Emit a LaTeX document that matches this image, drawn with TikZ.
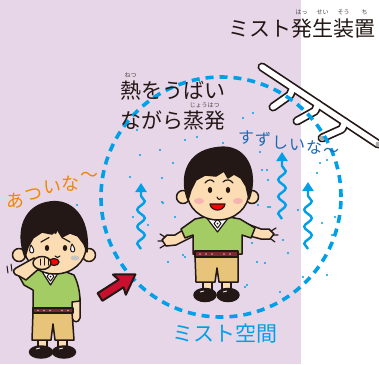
\documentclass[tikz,border=0pt]{standalone}
\usepackage{fontspec}
\setmainfont{Noto Sans CJK JP}
\usetikzlibrary{arrows.meta,decorations.pathmorphing}
\definecolor{bgl}{RGB}{230,214,232}
\definecolor{mist}{RGB}{0,160,233}
\definecolor{coolblue}{RGB}{30,105,180}
\definecolor{hotorange}{RGB}{240,135,0}
\definecolor{ink}{RGB}{35,24,21}
\definecolor{skin}{RGB}{252,220,178}
\definecolor{shirt}{RGB}{164,204,100}
\definecolor{pants}{RGB}{232,196,122}
\definecolor{belt}{RGB}{122,42,52}
\definecolor{arrowred}{RGB}{200,16,46}
\definecolor{cheek}{RGB}{245,180,175}
\definecolor{pipegray}{RGB}{170,170,170}
\begin{document}
\begin{tikzpicture}[x=1pt,y=-1pt,
  outl/.style={draw=ink,line width=1.5pt,line join=round,line cap=round},
  big/.style={font=\fontsize{21}{21}\selectfont,text=ink,inner sep=0pt,anchor=base},
  ruby/.style={font=\fontsize{6}{6}\selectfont,text=ink!80,inner sep=0pt,anchor=base},
  hotchar/.style={font=\fontsize{18}{18}\selectfont,text=hotorange,inner sep=0pt,anchor=base},
  coolchar/.style={font=\fontsize{16}{16}\selectfont,text=coolblue,inner sep=0pt,anchor=base},
  wavy/.style={mist,line width=2.4pt,decorate,
    decoration={snake,amplitude=3.8pt,segment length=17pt,post length=8pt}},
  pipeouter/.style={ink,line width=9pt,line cap=round,line join=round},
  pipeinner/.style={white,line width=5.6pt,line cap=round,line join=round},
  drop/.style={outl,line width=1pt,fill=white}
]
\useasboundingbox (0,0) rectangle (379,364);
% backdrop: room on the left, outside on the right
\fill[white] (0,0) rectangle (379,364);
\fill[bgl] (0,0) rectangle (301,364);

% ---- mist nozzle pipe ----
\coordinate (p0) at (262,67);  \coordinate (p1) at (378,144);
\coordinate (b1j) at (293,88); \coordinate (b1c) at (290,95); \coordinate (b1e) at (273,107);
\coordinate (b2j) at (318,104);\coordinate (b2c) at (315,111);\coordinate (b2e) at (297,121);
\coordinate (b3j) at (345,122);\coordinate (b3c) at (342,129);\coordinate (b3e) at (322,138);
\draw[pipeouter] (p0) -- (p1);
\draw[pipeouter] (b1j) -- (b1c) -- (b1e);
\draw[pipeouter] (b2j) -- (b2c) -- (b2e);
\draw[pipeouter] (b3j) -- (b3c) -- (b3e);
\draw[pipeinner] (p0) -- (p1);
\draw[pipeinner] (b1j) -- (b1c) -- (b1e);
\draw[pipeinner] (b2j) -- (b2c) -- (b2e);
\draw[pipeinner] (b3j) -- (b3c) -- (b3e);
\fill[pipegray] (b3e) circle[radius=2.4pt];
\fill[pipegray] (p1) circle[radius=2.4pt];

% ---- mist zone ----
\draw[mist,line width=3.6pt,dash pattern=on 8pt off 6pt] (221,197) circle[radius=120pt];
\foreach \p in {(243,118),(253,113),(197,137),(223,143),(260,152),(262,170),(317,173),
  (320,163),(327,160),(258,205),(268,207),(298,210),(322,223),(335,217),(332,235),
  (252,243),(283,240),(288,253),(265,263),(247,285),(280,292),(327,275),(303,277),
  (77,205),(163,203),(175,217),(148,225),(133,217),(168,262),(185,257),(137,130),
  (160,150),(173,163),(140,155),(130,177),(185,140),(162,178),(267,170),(268,180),
  (270,207),(183,255),(162,202),(257,262),(245,287)}
  \fill[mist] \p circle[radius=1.2pt];

% rising air
\draw[wavy,-{Triangle[length=9pt,width=11pt]}] (141,249) -- (141,183);
\draw[wavy,-{Triangle[length=9pt,width=11pt]}] (282,219) -- (282,152);
\draw[wavy,-{Triangle[length=9pt,width=11pt]}] (308,249) -- (308,182);

% ---- texts ----
\node[big] (title) at (301.5,36.5) {ミスト発生装置};
\node[ruby] (rhatsu) at (301.5,14) {はっ};
\node[ruby] (rsei) at (322.5,14) {せい};
\node[ruby] (rsou) at (343.5,14) {そう};
\node[ruby] (rchi) at (364.5,14) {ち};
\node[big] (heat1) at (172.5,98.5) {熱をうばい};
\node[big] (heat2) at (172.5,128.5) {ながら蒸発};
\node[ruby] (rnetsu) at (130.5,77.5) {ねつ};
\node[ruby] (rjouhatsu) at (204.5,107.5) {じょうはつ};
\node[big,text=mist] (space) at (225,341.5) {ミスト空間};
% the cool boy's words slide down to the right, one sign at a time
\node[coolchar] (cool1) at (246,143) {す};
\node[coolchar] (cool2) at (263,145.5) {ず};
\node[coolchar] (cool3) at (280,148) {し};
\node[coolchar] (cool4) at (297,150.5) {い};
\node[coolchar] (cool5) at (314,153.5) {な};
\node[coolchar] (cool6) at (331,156.5) {〜};
% the hot boy's words climb along a slope
\node[hotchar] (hot1) at (15,207) {あ};
\node[hotchar] (hot2) at (33.5,200) {つ};
\node[hotchar] (hot3) at (52,193.5) {い};
\node[hotchar] (hot4) at (70.5,190) {な};
\node[hotchar] (hot5) at (89,181) {〜};

% ---- red arrow into the mist ----
\begin{scope}[shift={(100,297)},rotate=32.6]
  \filldraw[fill=arrowred,draw=ink,line width=2pt,line join=round]
    (0,-4.5) -- (25,-4.5) -- (23,-12) -- (42,0) -- (23,12) -- (25,4.5) -- (0,4.5) -- cycle;
\end{scope}

% ---- boy in the mist ----
\filldraw[outl,fill=skin] (194,223) -- (175,235) -- (167,235) -- (162,240) -- (166,246) -- (176,245) -- (194,236) -- cycle;
\draw[outl,line width=1.2pt] (165,237) -- (160,234) (163,241) -- (158,241) (165,245) -- (160,248);
\filldraw[outl,fill=skin] (242,222) -- (261,229) -- (269,229) -- (274,234) -- (270,239) -- (261,239) -- (242,234) -- cycle;
\draw[outl,line width=1.2pt] (271,231) -- (276,228) (273,235) -- (278,235) (271,239) -- (275,242);
\filldraw[outl,fill=skin] (203,278) rectangle (212,291);
\filldraw[outl,fill=skin] (222,278) rectangle (231,291);
\filldraw[outl,fill=ink] (205,295) ellipse[x radius=11pt,y radius=6.5pt];
\filldraw[outl,fill=ink] (228,295) ellipse[x radius=11pt,y radius=6.5pt];
\draw[white,line width=0.8pt] (200,292) -- (204,291) (223,292) -- (227,291);
\filldraw[outl,fill=shirt] (205,217) -- (229,217) -- (240,219) -- (255,228) -- (251,238) -- (242,235) -- (242,254) -- (193,254) -- (193,235) -- (185,238) -- (181,229) -- (195,219) -- cycle;
\filldraw[outl,fill=pants] (195,256) -- (238,256) -- (238,282) -- (219,282) -- (217,268) -- (215,282) -- (196,282) -- cycle;
\filldraw[outl,fill=belt,line width=1.2pt] (195,251) rectangle (238,257);
\foreach \x in {200,206,212,224,230} \fill[white!60!belt] (\x,254) circle[radius=0.9pt];
\filldraw[outl,fill=white,line width=1.2pt] (206,217) -- (229,217) -- (217.5,232) -- cycle;
\filldraw[outl,fill=white,line width=1pt] (217.5,219) -- (221,223.5) -- (217.5,228) -- (214,223.5) -- cycle;
\fill[ink] (217.5,223.5) circle[radius=1pt];
% head
\filldraw[outl,fill=skin] (183,197) circle[radius=6.5pt];
\filldraw[outl,fill=skin] (252,197) circle[radius=6.5pt];
\filldraw[outl,fill=skin] (218,192) ellipse[x radius=31pt,y radius=28pt];
\filldraw[outl,fill=ink] (188,200) .. controls (180,180) and (185,155) .. (210,149)
  .. controls (222,146) and (230,147) .. (236,150)
  .. controls (252,158) and (256,180) .. (249,199)
  -- (246,186) -- (241,178) -- (234,174) -- (228,178) -- (224,171) -- (216,176)
  -- (205,175) -- (196,180) -- (191,190) -- cycle;
\fill[ink] (210,190) ellipse[x radius=2.2pt,y radius=3pt];
\fill[ink] (228,190) ellipse[x radius=2.2pt,y radius=3pt];
\draw[outl,line width=1.2pt] (205,183) .. controls (208,179) and (212,179) .. (214,182);
\draw[outl,line width=1.2pt] (223,182) .. controls (226,179) and (230,179) .. (233,183);
\draw[outl,line width=1.1pt] (217,197) .. controls (218,200) and (221,200) .. (222,198);
\filldraw[outl,fill=red,line width=1.2pt] (210,204) -- (225,204) .. controls (224,212) and (211,212) .. (210,204) -- cycle;
\fill[cheek] (199,201) ellipse[x radius=5pt,y radius=3pt];
\fill[cheek] (238,201) ellipse[x radius=5pt,y radius=3pt];

% ---- boy outside, too hot ----
\filldraw[outl,fill=skin] (70,298) -- (80,298) -- (80,318) .. controls (79,323) and (73,323) .. (72,318) -- cycle;
\filldraw[outl,fill=skin] (38,336) rectangle (47,349);
\filldraw[outl,fill=skin] (58,336) rectangle (67,349);
\filldraw[outl,fill=ink] (41,352) ellipse[x radius=11.5pt,y radius=6pt];
\filldraw[outl,fill=ink] (64,352) ellipse[x radius=11.5pt,y radius=6pt];
\draw[white,line width=0.8pt] (36,349) -- (40,348) (59,349) -- (63,348);
\filldraw[outl,fill=shirt] (40,270) -- (61,270) -- (74,275) .. controls (78,283) and (80,292) .. (80,301)
  -- (72,302) -- (72,309) -- (33,309) -- (33,290) -- (24,285) -- (19,276) -- (30,271) -- cycle;
\filldraw[outl,fill=pants] (33,312) -- (72,312) -- (74,340) -- (55,340) -- (53,324) -- (51,340) -- (32,340) -- cycle;
\filldraw[outl,fill=belt,line width=1.2pt] (33,308) rectangle (73,313);
\foreach \x in {38,44,50,62,68} \fill[white!60!belt] (\x,310.5) circle[radius=0.9pt];
\filldraw[outl,fill=white,line width=1.2pt] (41,270) -- (60,270) -- (50.5,285) -- cycle;
\filldraw[outl,fill=white,line width=1pt] (50.5,272) -- (54,276.5) -- (50.5,281) -- (47,276.5) -- cycle;
\fill[ink] (50.5,276.5) circle[radius=1pt];
% head
\filldraw[outl,fill=skin] (19,255) circle[radius=6.5pt];
\filldraw[outl,fill=skin] (89,255) circle[radius=6.5pt];
\filldraw[outl,fill=skin] (55,247) ellipse[x radius=31pt,y radius=27pt];
\filldraw[outl,fill=ink] (25,257) .. controls (15,230) and (25,205) .. (50,202)
  .. controls (70,199) and (90,215) .. (87,252)
  -- (84,244) -- (78,236) -- (70,233) -- (62,237) -- (57,229) -- (52,234)
  -- (42,232) -- (33,238) -- (28,247) -- cycle;
\fill[ink] (47,248) ellipse[x radius=2.2pt,y radius=3pt];
\fill[ink] (65,248) ellipse[x radius=2.2pt,y radius=3pt];
\draw[outl,line width=1.2pt] (41,242) -- (49,237.5);
\draw[outl,line width=1.2pt] (62,237.5) -- (70,242);
\draw[outl,line width=1.1pt] (55,256) .. controls (56,258) and (59,258) .. (60,256);
\filldraw[outl,fill=red,line width=1.2pt] (54,262) ellipse[x radius=5pt,y radius=3.5pt];
\fill[gray!45] (75,258) ellipse[x radius=4.5pt,y radius=2.5pt];
\filldraw[drop] (31,245) .. controls (34,249) and (35,252) .. (32,253) .. controls (29,253) and (29,249) .. (31,245) -- cycle;
\filldraw[drop] (72,244) .. controls (75,248) and (76,251) .. (73,252) .. controls (70,252) and (70,248) .. (72,244) -- cycle;
\fill[ink] (55,226) .. controls (58,230) and (58,233) .. (56,234) .. controls (53,234) and (53,230) .. (55,226) -- cycle;
% raised forearm and fist
\filldraw[outl,fill=skin] (19,276) .. controls (13,275) and (12,270) .. (16,268) -- (34,258) -- (42,266) -- (26,280) -- cycle;
\filldraw[outl,fill=skin] (42,263) ellipse[x radius=9pt,y radius=6.5pt];
\draw[outl,line width=1pt] (40,259) -- (40,265) (44,258) -- (44,265) (48,259) -- (48,265);
% shiver marks
\draw[outl,line width=1pt] (7,266) -- (8,273) (11,264) -- (12,271);
\end{tikzpicture}
\end{document}
